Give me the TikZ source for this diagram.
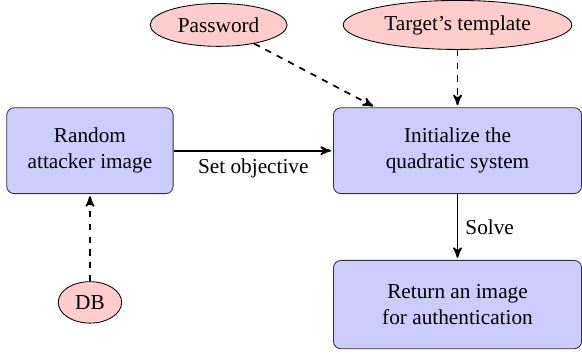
\documentclass[tikz,border=0pt]{standalone}
\usepackage{fontspec}
\setmainfont{Liberation Serif}
\usetikzlibrary{positioning,arrows,shapes.geometric}

\begin{document}
\begin{tikzpicture}[->,>=stealth',shorten >=1pt,auto,node distance=1cm,
  thick,
  proc node/.style={rectangle,rounded corners=3.5pt,fill=blue!20,draw=black!80,thin,align=center,minimum height=1.42cm},
  data node/.style={ellipse,fill=red!20,draw,thin,inner sep=3.6pt}]
   \node[proc node,minimum width=2.75cm] (rand) {Random\\attacker image};
   \node[proc node,minimum width=4.1cm] (init) [right=75pt of rand] {Initialize the\\quadratic system};
   \node[proc node,minimum width=4.1cm,minimum height=1.46cm] (ret) [below=31pt of init] {Return an image\\for authentication};
   \node[data node] (db) [below=41pt of rand] {DB};
   \node[data node] (tgt) [above=27pt of init] {Target's template};
   \node[data node] (pwd) [left=26pt of tgt] {Password};
    \path[->]
    (rand) edge node[below] {Set objective} (init)
    (init) edge node {Solve} (ret)
    (pwd) edge [dashed] (init)
    (tgt) edge [dashed] (init)
    (db) edge [dashed] (rand);
   \useasboundingbox (-42.3pt,-95.8pt) rectangle (231pt,69pt);
\end{tikzpicture}
\end{document}
